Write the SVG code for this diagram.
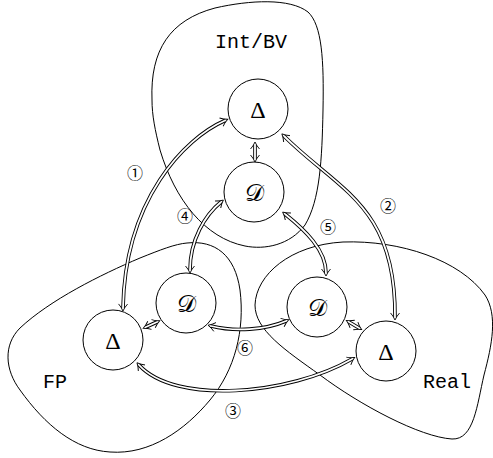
<svg xmlns="http://www.w3.org/2000/svg" width="493" height="458" viewBox="0 0 493 458">
<style>
.blob{fill:none;stroke:#000;stroke-width:1}
.node{fill:#fff;stroke:#000;stroke-width:1}
.ob{fill:none;stroke:#000;stroke-width:3.6}
.iw{fill:none;stroke:#fff;stroke-width:1.8;marker-start:url(#tip);marker-end:url(#tip)}
.lbl{font-family:"Liberation Mono","DejaVu Sans Mono",monospace;font-size:20px;fill:#000}
.sym{font-family:"Liberation Serif","DejaVu Serif",serif;font-size:24px;fill:#000;text-anchor:middle}
.num{font-family:"Noto Sans CJK JP","DejaVu Sans",sans-serif;font-size:16px;fill:#000;text-anchor:middle;dominant-baseline:central}
</style>
<defs>
<marker id="tip" markerUnits="userSpaceOnUse" orient="auto-start-reverse" viewBox="-6 -6 12 12" markerWidth="12" markerHeight="12" refX="0" refY="0" overflow="visible">
<path d="M -4,-4.5 Q -1,-1.8 3,0 Q -1,1.8 -4,4.5" fill="none" stroke="#000" stroke-width="0.9"/>
</marker>
</defs>
<g id="regions">
<path id="blob-intbv" class="blob" d="M 152,100 C 150,50 170,20 215,8 C 250,0 290,-2 308,12 C 322,25 324,60 323,110 C 322,160 320,200 305,225 C 290,245 265,250 245,246 C 205,238 175,200 160,150 C 155,130 152,115 152,100 Z"/>
<path id="blob-fp" class="blob" d="M 187,243 C 215,240 235,255 240,290 C 245,330 235,370 210,400 C 185,430 150,455 110,452 C 75,450 45,425 20,390 C 5,370 3,345 20,328 C 50,300 100,275 140,258 C 160,250 175,244 187,243 Z"/>
<path id="blob-real" class="blob" d="M 343,242 C 400,240 460,260 485,295 C 498,315 492,345 484,375 C 477,405 474,440 452,439 C 420,437 360,405 320,375 C 285,350 255,330 255,305 C 256,275 290,245 343,242 Z"/>
<text class="lbl" x="215" y="48">Int/BV</text>
<text class="lbl" x="43" y="388">FP</text>
<text class="lbl" x="423" y="388">Real</text>
</g>
<g id="nodes">
<g id="intbv-delta"><circle class="node" cx="258" cy="109" r="30"/><text class="sym" x="258" y="118">Δ</text></g>
<g id="intbv-d"><circle class="node" cx="254" cy="192" r="30"/><text class="sym" x="254" y="201">𝒟</text></g>
<g id="fp-d"><circle class="node" cx="186" cy="303" r="30"/><text class="sym" x="186" y="312">𝒟</text></g>
<g id="fp-delta"><circle class="node" cx="113" cy="340" r="30"/><text class="sym" x="113" y="349">Δ</text></g>
<g id="real-d"><circle class="node" cx="317" cy="307" r="30"/><text class="sym" x="317" y="316">𝒟</text></g>
<g id="real-delta"><circle class="node" cx="386" cy="351" r="30"/><text class="sym" x="386" y="360">Δ</text></g>
</g>
<g id="connectors">
<g id="c1"><path class="ob" d="M 123,308 C 125,199 185,138 225,120.5"/><path class="iw" d="M 123,308 C 125,199 185,138 225,120.5"/></g>
<g id="c2"><path class="ob" d="M 284,136 C 338,190 396,205 395,317"/><path class="iw" d="M 284,136 C 338,190 396,205 395,317"/></g>
<g id="c3"><path class="ob" d="M 139,365 C 175,405 290,395 352,359"/><path class="iw" d="M 139,365 C 175,405 290,395 352,359"/></g>
<g id="c4"><path class="ob" d="M 221,202 C 205,215 190,240 190,270"/><path class="iw" d="M 221,202 C 205,215 190,240 190,270"/></g>
<g id="c5"><path class="ob" d="M 285,214 C 305,230 326,250 326,273"/><path class="iw" d="M 285,214 C 305,230 326,250 326,273"/></g>
<g id="c6"><path class="ob" d="M 211,326 C 235,332 265,330 286,321"/><path class="iw" d="M 211,326 C 235,332 265,330 286,321"/></g>
<g id="c-top"><path class="ob" d="M 255,145 L 255,159"/><path class="iw" d="M 255,145 L 255,159"/></g>
<g id="c-fp"><path class="ob" d="M 146,327 L 157,322"/><path class="iw" d="M 146,327 L 157,322"/></g>
<g id="c-real"><path class="ob" d="M 349,322 L 359,328"/><path class="iw" d="M 349,322 L 359,328"/></g>
</g>
<g id="labels">
<text class="num" x="135" y="172">①</text>
<text class="num" x="388" y="205">②</text>
<text class="num" x="233" y="410">③</text>
<text class="num" x="185" y="215">④</text>
<text class="num" x="328" y="226">⑤</text>
<text class="num" x="245" y="347">⑥</text>
</g>
</svg>
